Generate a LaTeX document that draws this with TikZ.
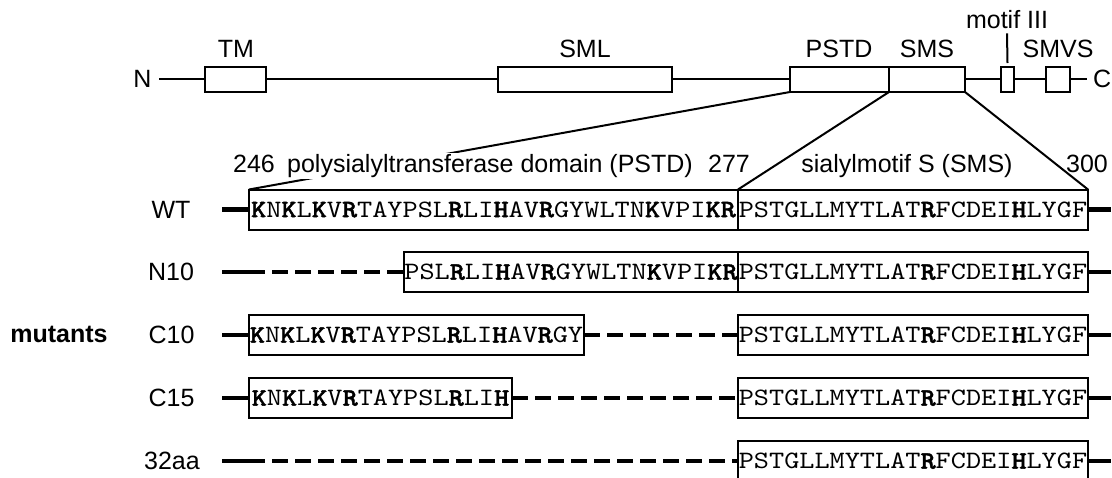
\documentclass[tikz,border=0pt]{standalone}
\usepackage{fontspec}
\setmainfont{Liberation Sans}
% typewriter faces for the residues, widened to a 15.15pt pitch
\newfontfamily\seqfont[FakeStretch=1.154]{lmmono10-regular.otf}
\newfontfamily\seqbf[FakeStretch=1.154, FakeBold=1.6]{lmmonolt10-bold.otf}
\newcommand\bres[1]{{\seqbf #1}}

\tikzset{
  dom/.style={draw, line width=2pt, fill=white, minimum height=25pt, inner sep=0pt, outer sep=0pt},
  seqbox/.style={draw, line width=2pt, fill=white, minimum height=40pt, inner sep=0pt, outer sep=0pt,
                 font=\seqfont\fontsize{25}{25}\selectfont},
  lbl/.style={font=\fontsize{25}{30}\selectfont, inner sep=0pt},
  thinline/.style={line width=2pt},
  stub/.style={line width=4.5pt},
  gapline/.style={line width=4.5pt, dash pattern=on 16pt off 7pt},
}

\begin{document}
\begin{tikzpicture}[x=1pt,y=-1pt]
\useasboundingbox (0,0) rectangle (1112,477);

% ---- full-length protein ----
\node[lbl] (N) at (142.5,79) {N};
\node[lbl, anchor=west] (C) at (1093,79) {C};
\coordinate (bbL) at (159,79);
\coordinate (bbR) at (1087,79);
\draw[thinline] (bbL) -- (bbR);

\node[dom, anchor=west, minimum width=61pt]  (TM)    at (205,79.5) {};
\node[dom, anchor=west, minimum width=174pt] (SML)   at (498,79.5) {};
\node[dom, anchor=west, minimum width=99pt]  (PSTD)  at (790,79.5) {};
\node[dom, anchor=west, minimum width=76pt]  (SMS)   at (PSTD.east) {};
\node[dom, anchor=west, minimum width=13pt]  (motif) at (1001,79.5) {};
\node[dom, anchor=west, minimum width=24pt]  (SMVS)  at (1046,79.5) {};

\node[lbl, anchor=base] (TMl)   at (236,57) {TM};
\node[lbl, anchor=base] (SMLl)  at (585,57) {SML};
\node[lbl, anchor=base] (PSTDl) at (839,57) {PSTD};
\node[lbl, anchor=base] (SMSl)  at (927,57) {SMS};
\node[lbl, anchor=base] (SMVSl) at (1058,57) {SMVS};
\node[lbl, anchor=base] (m3)    at (1007,28) {motif III};
\draw[thinline] ([yshift=-5pt]m3.south) -- ([yshift=4pt]motif.north);

% ---- sequence rows ----
% WT
\node[seqbox, anchor=west, minimum width=489pt] (wtP) at (249,209.5)
  {\bres{K}N\bres{K}L\bres{K}V\bres{R}TAYPSL\bres{R}LI\bres{H}AV\bres{R}GYWLTN\bres{K}VPI\bres{KR}};
\node[seqbox, anchor=west, minimum width=350pt] (wtS) at (wtP.east)
  {PSTGLLMYTLAT\bres{R}FCDEI\bres{H}LYGF};
% N10
\node[seqbox, anchor=east, minimum width=334pt] (n10P) at (738,272)
  {PSL\bres{R}LI\bres{H}AV\bres{R}GYWLTN\bres{K}VPI\bres{KR}};
\node[seqbox, anchor=west, minimum width=350pt] (n10S) at (738,272)
  {PSTGLLMYTLAT\bres{R}FCDEI\bres{H}LYGF};
% C10
\node[seqbox, anchor=west, minimum width=335pt] (c10P) at (249,335)
  {\bres{K}N\bres{K}L\bres{K}V\bres{R}TAYPSL\bres{R}LI\bres{H}AV\bres{R}GY};
\node[seqbox, anchor=west, minimum width=350pt] (c10S) at (738,335)
  {PSTGLLMYTLAT\bres{R}FCDEI\bres{H}LYGF};
% C15
\node[seqbox, anchor=west, minimum width=263pt] (c15P) at (249,398)
  {\bres{K}N\bres{K}L\bres{K}V\bres{R}TAYPSL\bres{R}LI\bres{H}};
\node[seqbox, anchor=west, minimum width=350pt] (c15S) at (738,398)
  {PSTGLLMYTLAT\bres{R}FCDEI\bres{H}LYGF};
% 32aa
\node[seqbox, anchor=west, minimum width=350pt] (aaS) at (738,461)
  {PSTGLLMYTLAT\bres{R}FCDEI\bres{H}LYGF};

% row names
\node[lbl] (wtL)  at (171,209.5) {WT};
\node[lbl] (n10L) at (171,272) {N10};
\node[lbl] (c10L) at (171.5,335) {C10};
\node[lbl] (c15L) at (171.5,398) {C15};
\node[lbl] (aaL)  at (172,461) {32aa};
\node[lbl, font=\bfseries\fontsize{25}{30}\selectfont, anchor=base] (mut) at (59,342) {mutants};

% flanking chains and deleted stretches
\coordinate (wtA) at (222,209.5);  \coordinate (wtB) at (1111,209.5);
\coordinate (n10A) at (222,272); \coordinate (n10K) at (249,272); \coordinate (n10B) at (1111,272);
\coordinate (c10A) at (222,335); \coordinate (c10B) at (1111,335);
\coordinate (c15A) at (222,398); \coordinate (c15B) at (1111,398);
\coordinate (aaA) at (222,461);  \coordinate (aaK) at (249,461); \coordinate (aaB) at (1111,461);

\draw[stub] (wtA) -- (wtP.west);
\draw[stub] (wtS.east) -- (wtB);

\draw[stub] (n10A) -- (n10K);
\draw[gapline] (n10K) -- (n10P.west);
\draw[stub] (n10S.east) -- (n10B);

\draw[stub] (c10A) -- (c10P.west);
\draw[gapline] (c10P.east) -- (c10S.west);
\draw[stub] (c10S.east) -- (c10B);

\draw[stub] (c15A) -- (c15P.west);
\draw[gapline] (c15P.east) -- (c15S.west);
\draw[stub] (c15S.east) -- (c15B);

\draw[stub] (aaA) -- (aaK);
\draw[gapline] (aaK) -- (aaS.west);
\draw[stub] (aaS.east) -- (aaB);

% expansion lines from the domain map to the WT sequence
\draw[thinline] (PSTD.south west) -- (wtP.north west);
\draw[thinline] (PSTD.south east) -- (wtS.north west);
\draw[thinline] (SMS.south east) -- (wtS.north east);

% residue numbers and domain names
\node[lbl, anchor=base] (n246) at (254,172.5) {246};
\node[lbl, anchor=base, fill=white, inner sep=1pt] (pstdName) at (490,172.5) {polysialyltransferase domain (PSTD)};
\node[lbl, anchor=base] (n277) at (729,172.5) {277};
\node[lbl, anchor=base] (smsName) at (907,172.5) {sialylmotif S (SMS)};
\node[lbl, anchor=base] (n300) at (1087,172.5) {300};
\end{tikzpicture}
\end{document}
